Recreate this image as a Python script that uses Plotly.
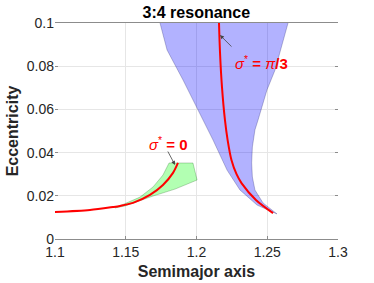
import plotly.graph_objects as go

# --- data ---
# sigma* = 0 branch (red curve, lower-left)
a_sig0 = [1.100, 1.1247, 1.1410, 1.1459, 1.1551, 1.1671, 1.1763, 1.1834, 1.1869]
e_sig0 = [0.0125, 0.0134, 0.0148, 0.0153, 0.0167, 0.0204, 0.0250, 0.0306, 0.0352]

# sigma* = pi/3 branch (red curve, right)
a_sig60 = [1.2159, 1.2166, 1.2180, 1.2201, 1.2220, 1.2247, 1.2283, 1.2318, 1.2420, 1.2541]
e_sig60 = [0.1000, 0.0866, 0.0704, 0.0551, 0.0458, 0.0366, 0.0300, 0.0259, 0.0181, 0.0120]

# blue region (libration zone around sigma* = pi/3)
a_blue = [1.1742, 1.1792, 1.1905, 1.2046, 1.2117, 1.2216, 1.2307, 1.2428, 1.2569,
          1.2470, 1.2413, 1.2395, 1.2390, 1.2395, 1.2413, 1.2435, 1.2498, 1.2555,
          1.2611, 1.2647]
e_blue = [0.1000, 0.0875, 0.0736, 0.0551, 0.0458, 0.0319, 0.0227, 0.0157, 0.0116,
          0.0167, 0.0227, 0.0287, 0.0352, 0.0426, 0.0505, 0.0551, 0.0690, 0.0782,
          0.0921, 0.1000]

# green region (libration zone around sigma* = 0)
a_green = [1.1806, 1.1975, 1.2004, 1.1848, 1.1693, 1.1601, 1.1495, 1.1424,
           1.1509, 1.1601, 1.1693, 1.1763, 1.1806]
e_green = [0.0352, 0.0352, 0.0273, 0.0231, 0.0199, 0.0176, 0.0153, 0.0144,
           0.0167, 0.0194, 0.0241, 0.0296, 0.0352]

x_ticks = [1.1, 1.15, 1.2, 1.25, 1.3]
x_tick_text = ["1.1", "1.15", "1.2", "1.25", "1.3"]
y_ticks = [0, 0.02, 0.04, 0.06, 0.08, 0.1]
y_tick_text = ["0", "0.02", "0.04", "0.06", "0.08", "0.1"]

FONT = "Liberation Sans, Arial, Helvetica, sans-serif"

fig = go.Figure()
fig.add_trace(go.Scatter(x=a_blue, y=e_blue, mode="lines", fill="toself",
                         fillcolor="rgba(0,0,255,0.3)",
                         line=dict(color="rgba(0,0,80,0.35)", width=0.7),
                         hoverinfo="skip", showlegend=False))
fig.add_trace(go.Scatter(x=a_green, y=e_green, mode="lines", fill="toself",
                         fillcolor="rgba(0,255,0,0.3)",
                         line=dict(color="rgba(0,80,0,0.35)", width=0.7),
                         hoverinfo="skip", showlegend=False))
fig.add_trace(go.Scatter(x=a_sig0, y=e_sig0, mode="lines",
                         line=dict(color="red", width=2, shape="spline", smoothing=0.8),
                         showlegend=False))
fig.add_trace(go.Scatter(x=a_sig60, y=e_sig60, mode="lines",
                         line=dict(color="red", width=2, shape="spline", smoothing=0.8),
                         showlegend=False))

# arrows
fig.add_annotation(x=1.2166, y=0.0944, ax=1.2258, ay=0.0884, axref="x", ayref="y",
                   xref="x", yref="y", text="", showarrow=True, arrowhead=2,
                   arrowsize=1, arrowwidth=0.8, arrowcolor="#444")
fig.add_annotation(x=1.1848, y=0.0343, ax=1.1792, ay=0.0412, axref="x", ayref="y",
                   xref="x", yref="y", text="", showarrow=True, arrowhead=2,
                   arrowsize=1, arrowwidth=0.8, arrowcolor="#444")
# labels
fig.add_annotation(x=1.2456, y=0.0815, xref="x", yref="y", showarrow=False,
                   text="<i>σ</i><sup>*</sup> <b>=</b> <i>π</i><b>/3</b>",
                   font=dict(family=FONT, size=15, color="red"))
fig.add_annotation(x=1.1799, y=0.0444, xref="x", yref="y", showarrow=False,
                   text="<i>σ</i><sup>*</sup> <b>= 0</b>",
                   font=dict(family=FONT, size=15, color="red"))

fig.update_layout(
    width=374, height=283,
    margin=dict(l=55, r=36, t=23, b=44),
    paper_bgcolor="white", plot_bgcolor="white",
    font=dict(family=FONT, size=14, color="#262626"),
    title=dict(text="<b>3:4 resonance</b>", x=0.525, xanchor="center",
               y=1 - 12.5 / 283, yanchor="middle", yref="container",
               font=dict(family=FONT, size=16, color="#000")),
)
fig.update_xaxes(range=[1.1, 1.3], tickvals=x_ticks, ticktext=x_tick_text,
                 showgrid=True, gridcolor="#e6e6e6", gridwidth=1,
                 showline=True, linecolor="#8c8c8c", linewidth=1, mirror=True,
                 ticks="inside", ticklen=3, tickcolor="#8c8c8c",
                 zeroline=False, automargin=False,
                 title=dict(text="<b>Semimajor axis</b>", standoff=7,
                            font=dict(family=FONT, size=16, color="#262626")))
fig.update_yaxes(range=[0, 0.1], tickvals=y_ticks, ticktext=y_tick_text,
                 showgrid=True, gridcolor="#e6e6e6", gridwidth=1,
                 showline=False, zeroline=False, automargin=False,
                 ticks="inside", ticklen=3, tickcolor="#8c8c8c", mirror="ticks",
                 title=dict(text="<b>Eccentricity</b>", standoff=4,
                            font=dict(family=FONT, size=16, color="#262626")))

fig.write_html("out.html", config={"displayModeBar": False},
               post_script="document.body.style.margin='0';document.body.style.overflow='hidden';")
